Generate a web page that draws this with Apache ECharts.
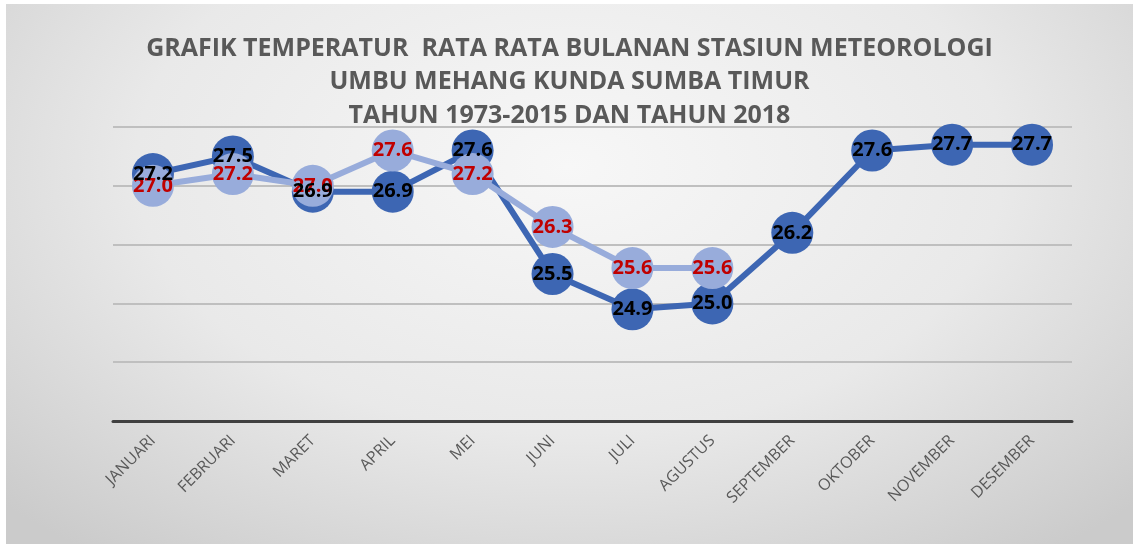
<!DOCTYPE html>
<html style="height: 100%">
<head>
    <meta charset="utf-8">
    <style>
        body{margin: 0; background: #fff;}
        #container{
            position: absolute;
            left: 6px;
            top: 4px;
            width: 1127px;
            height: 540px;
            background: radial-gradient(ellipse 70% 90% at 50% 30%, #f7f7f7 0%, #e9e9e9 55%, #cbcbcb 100%);
        }
    </style>
</head>
<body style="height: 100%; margin: 0">
<div id="container"></div>

<script src="https://cdn.jsdelivr.net/npm/echarts@6/dist/echarts.min.js"></script>
<script type="text/javascript">
    var bulan = ["JANUARI", "FEBRUARI", "MARET", "APRIL", "MEI", "JUNI", "JULI",
        "AGUSTUS", "SEPTEMBER", "OKTOBER", "NOVEMBER", "DESEMBER"];
    // rata-rata 1973-2015
    var suhuNormal = [27.2, 27.5, 26.9, 26.9, 27.6, 25.5, 24.9, 25.0, 26.2, 27.6, 27.7, 27.7];
    // tahun 2018 (sampai agustus)
    var suhu2018 = [27.0, 27.2, 27.0, 27.6, 27.2, 26.3, 25.6, 25.6];

    var judul = "GRAFIK TEMPERATUR  RATA RATA BULANAN STASIUN METEOROLOGI\nUMBU MEHANG KUNDA SUMBA TIMUR\nTAHUN 1973-2015 DAN TAHUN 2018";

    var dom = document.getElementById("container");
    var myChart = echarts.init(dom);

    function fmt(p) { return p.value.toFixed(1); }

    var labelFont = {
        show: true,
        position: 'inside',
        formatter: fmt,
        fontFamily: 'Open Sans',
        fontWeight: 'bold',
        fontSize: 20
    };

    var option = {
        animation: false,
        title: {
            text: judul,
            left: 'center',
            top: 23,
            textStyle: {
                fontFamily: 'Open Sans',
                fontWeight: 'bold',
                fontSize: 25,
                lineHeight: 33.5,
                color: '#595959'
            }
        },
        grid: {
            left: 107,
            right: 61,
            top: 123,
            bottom: 123
        },
        xAxis: {
            type: 'category',
            data: bulan,
            boundaryGap: true,
            axisLine: {lineStyle: {color: '#404040', width: 3}},
            axisTick: {show: false},
            axisLabel: {
                rotate: 45,
                margin: 17,
                interval: 0,
                color: '#595959',
                fontFamily: 'Open Sans',
                fontSize: 16
            }
        },
        yAxis: {
            type: 'value',
            min: 23,
            max: 28,
            interval: 1,
            axisLine: {show: false},
            axisLabel: {show: false},
            axisTick: {show: false},
            splitLine: {lineStyle: {color: '#bfbfbf', width: 2}}
        },
        series: [
            {
                name: '1973-2015',
                type: 'line',
                data: suhuNormal,
                symbol: 'circle',
                symbolSize: 42,
                itemStyle: {color: '#3d66b3'},
                lineStyle: {color: '#3d66b3', width: 6},
                label: {show: false},
                z: 2
            },
            {
                name: '2018',
                type: 'line',
                data: suhu2018,
                symbol: 'circle',
                symbolSize: 42,
                itemStyle: {color: '#98acdb'},
                lineStyle: {color: '#98acdb', width: 6},
                label: Object.assign({color: '#c00000'}, labelFont),
                z: 3
            },
            {
                // label saja untuk 1973-2015, supaya tampil di atas lingkaran 2018
                name: '1973-2015 label',
                type: 'line',
                data: suhuNormal,
                symbol: 'circle',
                symbolSize: 42,
                itemStyle: {color: 'transparent'},
                lineStyle: {width: 0, opacity: 0},
                label: Object.assign({color: '#000'}, labelFont),
                silent: true,
                z: 4
            }
        ]
    };

    myChart.setOption(option, true);
</script>
</body>
</html>
